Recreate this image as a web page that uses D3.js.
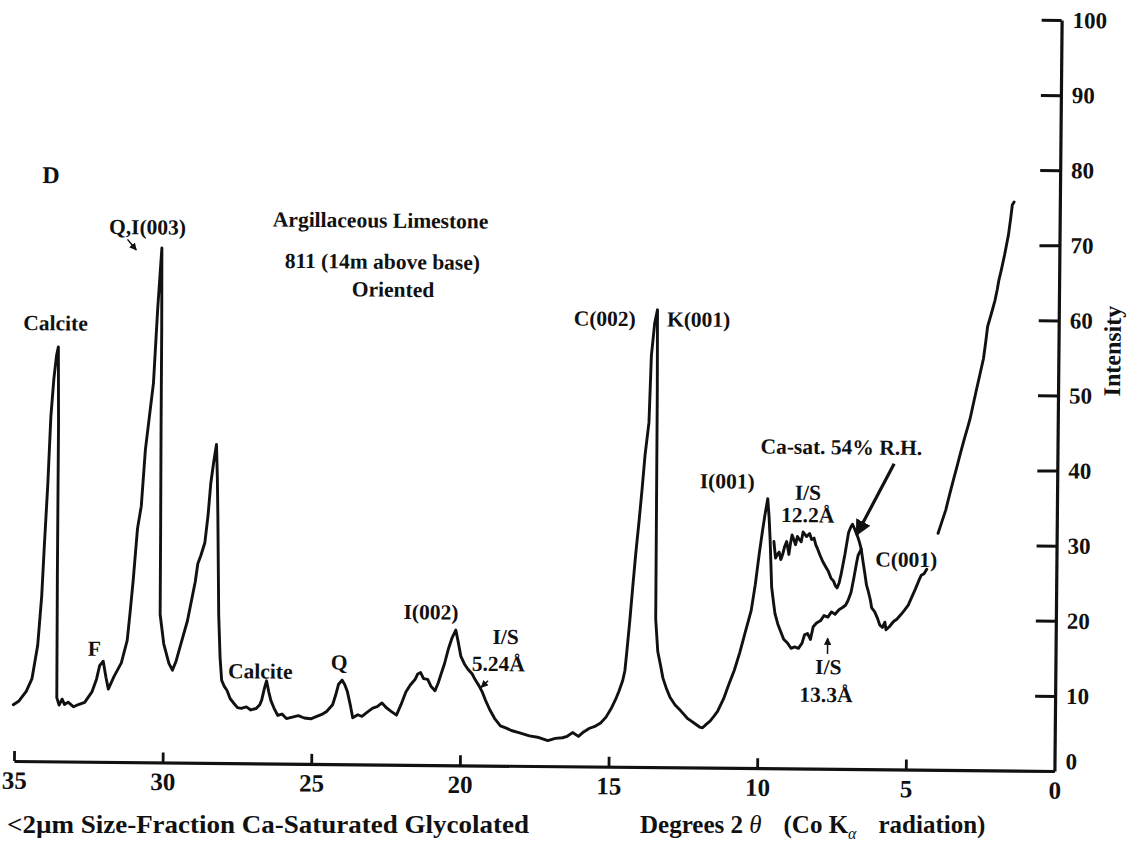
<!DOCTYPE html>
<html>
<head>
<meta charset="utf-8">
<script src="https://cdn.jsdelivr.net/npm/d3@7"></script>
<style>
  html, body { margin: 0; padding: 0; background: #fff; }
  svg { display: block; }
  text { font-family: "Liberation Serif", "DejaVu Serif", serif; font-weight: bold; fill: #111; }
</style>
</head>
<body>
<svg id="chart" width="1143" height="856"></svg>
<script>
// ---- Glycolated <2 µm fraction: degrees 2θ and intensity ----
const glyTheta = [35.04,34.85,34.61,34.42,34.24,34.12,34.05,33.95,33.87,33.78,33.70,33.64,33.61,33.60,33.58,33.50,33.40,33.32,33.20,33.01,32.85,32.64,32.40,32.25,32.15,32.03,31.93,31.85,31.75,31.66,31.42,31.23,31.14,31.05,30.92,30.80,30.68,30.56,30.43,30.31,30.19,30.17,30.16,30.14,30.13,30.00,29.82,29.70,29.58,29.45,29.21,28.96,28.88,28.78,28.65,28.55,28.47,28.38,28.29,28.25,28.22,28.16,28.10,28.04,27.95,27.86,27.75,27.61,27.50,27.37,27.20,27.05,26.87,26.75,26.69,26.60,26.53,26.45,26.38,26.25,26.14,26.00,25.85,25.65,25.45,25.25,25.03,24.85,24.66,24.50,24.30,24.20,24.11,23.99,23.90,23.81,23.70,23.62,23.45,23.31,23.12,22.95,22.80,22.64,22.50,22.33,22.15,22.00,21.84,21.70,21.53,21.45,21.35,21.25,21.11,21.00,20.86,20.75,20.68,20.55,20.43,20.30,20.18,20.10,20.00,19.88,19.76,19.62,19.51,19.38,19.26,19.15,19.02,18.85,18.65,18.45,18.28,18.00,17.67,17.35,17.05,16.80,16.56,16.40,16.22,16.02,15.85,15.65,15.45,15.28,15.10,14.91,14.78,14.67,14.55,14.48,14.42,14.33,14.24,14.15,14.05,13.96,13.87,13.75,13.69,13.59,13.50,13.48,13.47,13.46,13.38,13.28,13.20,13.08,12.95,12.78,12.58,12.35,12.09,11.95,11.85,11.72,11.60,11.48,11.35,11.15,10.99,10.80,10.62,10.45,10.25,10.12,10.00,9.90,9.82,9.73,9.68,9.64,9.57,9.50,9.45,9.35,9.27,9.15,9.02,8.90,8.78,8.65,8.53,8.45,8.35,8.25,8.16,8.05,7.92,7.80,7.67,7.55,7.43,7.30,7.18,7.08,7.00,6.90,6.81,6.72,6.67,6.57,6.50,6.45,6.38,6.32,6.25,6.20,6.10,6.01,5.92,5.83,5.75,5.71,5.60,5.46,5.35,5.22,5.10,4.97,4.85,4.73,4.62,4.54,4.45,4.36];
const glyIntensity = [7.5,8.0,9.3,11.0,15.4,22,28.5,37,45.9,51,54,55.2,45,25,8.5,7.5,8.3,7.6,7.9,7.3,7.6,7.9,9.3,11.0,12.8,13.4,11.2,9.7,10.6,11.4,13.2,16.2,20,24.1,31.1,34.1,41.6,45.9,50.5,60.5,68.5,58,45,30,19.7,15.8,13.2,12.3,13.5,15.4,18.9,24.1,26.5,27.6,29.3,33,37.2,40,42.4,38,32.8,19.7,14,11.0,10.2,9.7,8.6,7.9,7.4,7.3,7.5,7.1,7.3,7.8,8.4,10,11.0,9.5,8.4,7.2,6.4,6.6,6.0,6.2,6.4,6.1,6.0,6.3,6.6,7.0,7.9,9.2,10.6,11.2,10.6,9.7,7.8,6.2,6.6,6.4,7.0,7.5,7.7,8.2,7.6,7.1,6.6,8.0,9.7,10.6,11.4,12.1,12.3,11.5,11.4,10.5,9.9,11.0,11.9,13.5,15.4,17.0,18.0,16.5,14.5,13.5,12.8,12.2,11.4,10.6,9.7,8.6,7.5,6.3,5.3,5.0,4.7,4.4,4.0,3.8,3.4,3.7,3.8,4.0,4.5,4.0,4.6,5.1,5.4,5.8,6.6,7.9,9.0,10.1,11.5,12.8,15.4,19.5,24.1,28.5,32.8,37,41.6,45.9,54.8,59.1,60.9,50,35,19.7,15.4,13.5,11.9,10.5,9.3,8.3,7.5,6.5,5.8,5.4,5.3,5.8,6.2,6.8,7.5,9.2,11.0,13.0,15.4,18.0,21.0,24.5,28.5,31.5,33.7,35.9,33.5,30.7,24.1,22.0,20.6,19.2,18.4,17.2,16.7,16.0,16.2,16.0,16.7,17.8,18.0,17.2,18.9,19.4,19.7,20.4,20.2,20.9,20.6,21.2,21.5,21.8,22.4,23.5,25.4,27.5,28.5,29.3,27.5,26.3,24.5,23.7,22.6,21.5,21.0,20.2,19.2,18.9,19.6,18.6,19.0,19.7,20.0,20.6,21.2,21.9,23.0,24.1,25.2,25.9,26.1,26.7];

// ---- Ca-saturated, 54% relative humidity trace (low-angle part) ----
const rhTheta = [9.51,9.45,9.39,9.33,9.27,9.21,9.15,9.08,9.00,8.95,8.90,8.84,8.78,8.72,8.65,8.59,8.53,8.47,8.41,8.31,8.24,8.16,8.10,8.04,7.95,7.86,7.76,7.67,7.58,7.49,7.43,7.37,7.30,7.24,7.18,7.12,7.06,7.00,6.93,6.87,6.80,6.75,6.68,6.63,6.57];
const rhIntensity = [30.2,28.0,28.5,28.8,27.8,28.5,29.5,30.2,28.5,30.0,31.1,30.5,29.8,30.9,30.5,30.2,31.5,31.2,30.9,31.3,30.5,30.7,29.8,29.3,28.4,27.6,26.9,26.3,25.4,25.0,24.4,24.1,24.8,25.9,27.2,28.5,30.0,31.5,32.2,32.6,32.0,31.5,30.8,30.2,29.3];

// ---- Rising background below 4° 2θ ----
const lowTheta = [3.99,3.87,3.74,3.62,3.50,3.37,3.25,3.13,3.01,2.95,2.85,2.76,2.64,2.52,2.45,2.39,2.27,2.15,2.08,2.03,1.94,1.84,1.78,1.72,1.65,1.60,1.54];
const lowIntensity = [31.5,33.0,34.6,36.6,38.5,40.5,42.4,44.2,45.9,46.8,48.7,50.4,52.6,54.8,57.0,59.1,60.8,62.6,64.0,65.2,66.8,68.7,70.0,71.3,73.5,75.3,75.7];

// ---- Axis ticks ----
const xTicks = [35, 30, 25, 20, 15, 10, 5, 0];
const yTicks = [0, 10, 20, 30, 40, 50, 60, 70, 80, 90, 100];

// ---- Peak labels: text, 2θ, intensity ----
const labelText  = ["D", "Q,I(003)", "Argillaceous Limestone", "811 (14m above base)", "Oriented", "Calcite",
                    "C(002)", "K(001)", "F", "Calcite", "Q", "I(002)", "I/S", "5.24Å",
                    "I(001)", "I/S", "12.2Å", "Ca-sat. 54% R.H.", "C(001)", "I/S", "13.3Å"];
const labelTheta = [33.94, 30.68, 22.84, 22.77, 22.40, 33.74,
                    15.27, 12.11, 32.33, 26.74, 24.09, 21.02, 18.50, 18.74,
                    11.10, 8.38, 8.38, 7.27, 5.05, 7.64, 7.71];
const labelInt   = [77.0, 70.3, 71.5, 66.0, 62.3, 57.4,
                    58.7, 58.7, 14.1, 11.3, 12.6, 19.4, 16.2, 12.6,
                    37.2, 35.8, 32.8, 41.9, 27.0, 12.6, 8.9];

// ---- Pointer arrows: from (2θ, I) to (2θ, I) ----
const arrowFrom = [[5.49, 40.7], [31.35, 69.6], [19.08, 11.3], [7.67, 15.3]];
const arrowTo   = [[6.73, 31.2], [31.05, 68.2], [19.31, 10.4], [7.67, 17.4]];

// ---- Drawing ----
const svg = d3.select("#chart");
const x = d3.scaleLinear().domain([35, 0]).range([17.5, 1058]);
const y = d3.scaleLinear().domain([0, 100]).range([766, 15]);

const defs = svg.append("defs");
defs.append("marker").attr("id", "head").attr("viewBox", "0 0 10 10")
  .attr("refX", 9).attr("refY", 5).attr("markerWidth", 5).attr("markerHeight", 5)
  .attr("orient", "auto-start-reverse")
  .append("path").attr("d", "M0,0 L10,5 L0,10 z").attr("fill", "#111");

// the recorder sheet sits slightly skewed
const g = svg.append("g").attr("transform", "rotate(0.55, 535, 395)");

const line = d3.line().x(d => x(d[0])).y(d => y(d[1])).curve(d3.curveLinear);
const series = [
  d3.zip(glyTheta, glyIntensity),
  d3.zip(rhTheta, rhIntensity),
  d3.zip(lowTheta, lowIntensity)
];
g.selectAll("path.trace").data(series).join("path")
  .attr("class", "trace")
  .attr("d", line)
  .attr("fill", "none")
  .attr("stroke", "#111")
  .attr("stroke-width", 2.9)
  .attr("stroke-linejoin", "round")
  .attr("stroke-linecap", "round");

// x axis: ticks point up into the plot
const xAxis = g.append("g").attr("transform", `translate(0,${y(0)})`)
  .call(d3.axisBottom(x).tickValues(xTicks).tickFormat(d3.format("d"))
        .tickSizeInner(-10).tickSizeOuter(0).tickPadding(10));
xAxis.select(".domain").attr("stroke", "#111").attr("stroke-width", 3.2);
xAxis.selectAll(".tick line").attr("stroke", "#111").attr("stroke-width", 2.8)
  .filter(d => d === 0).remove();
xAxis.selectAll(".tick text").style("font-size", "25px").attr("fill", "#111");

// y axis on the right: ticks point left
const yAxis = g.append("g").attr("transform", `translate(${x(0)},0)`)
  .call(d3.axisRight(y).tickValues(yTicks).tickFormat(d3.format("d"))
        .tickSizeInner(-20).tickSizeOuter(0).tickPadding(11));
yAxis.select(".domain").attr("stroke", "#111").attr("stroke-width", 3.2);
yAxis.selectAll(".tick line").attr("stroke", "#111").attr("stroke-width", 3)
  .filter(d => d === 0).remove();
yAxis.selectAll(".tick text").style("font-size", "23px").attr("fill", "#111");
yAxis.selectAll(".tick").filter(d => d === 0).select("text").attr("dy", "-0.1em");

// Intensity title
g.append("text")
  .attr("transform", `translate(${x(0) + 62},${y(56)}) rotate(-90)`)
  .attr("text-anchor", "middle")
  .style("font-size", "24px")
  .text("Intensity");

// peak labels
g.selectAll("text.lbl").data(d3.range(labelText.length)).join("text")
  .attr("class", "lbl")
  .attr("x", i => x(labelTheta[i]))
  .attr("y", i => y(labelInt[i]))
  .attr("text-anchor", "middle")
  .style("font-size", i => labelText[i] === "D" ? "24px" : "21.5px")
  .text(i => labelText[i]);

// arrows
g.selectAll("line.arrow").data(d3.range(arrowFrom.length)).join("line")
  .attr("class", "arrow")
  .attr("x1", i => x(arrowFrom[i][0])).attr("y1", i => y(arrowFrom[i][1]))
  .attr("x2", i => x(arrowTo[i][0])).attr("y2", i => y(arrowTo[i][1]))
  .attr("stroke", "#111")
  .attr("stroke-width", i => i === 0 ? 3.2 : 1.5)
  .attr("marker-end", "url(#head)");

// bottom captions
svg.append("text").attr("x", 7).attr("y", 833)
  .style("font-size", "25px")
  .attr("textLength", 522).attr("lengthAdjust", "spacingAndGlyphs")
  .text("<2µm Size-Fraction Ca-Saturated Glycolated");

const cap = svg.append("text").attr("x", 640).attr("y", 833).style("font-size", "25px");
cap.append("tspan").text("Degrees 2 ");
cap.append("tspan").attr("font-style", "italic").style("font-weight", "normal").text("θ");
cap.append("tspan").attr("dx", 22).text("(Co K");
cap.append("tspan").attr("dy", 6).style("font-size", "16px").style("font-weight", "normal").attr("font-style", "italic").text("α");
cap.append("tspan").attr("dy", -6).attr("dx", 22).text("radiation)");
</script>
</body>
</html>
